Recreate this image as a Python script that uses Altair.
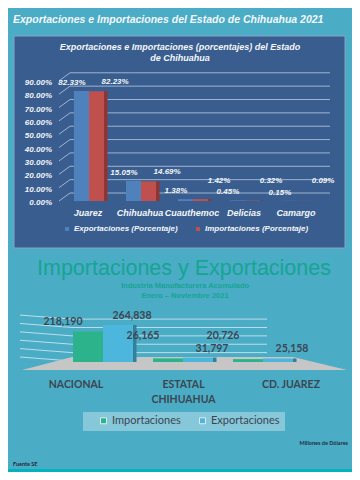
import altair as alt
import pandas as pd

# ---------------- data ----------------
top_title = "Exportaciones e Importaciones del Estado de Chihuahua 2021"
panel_title = ["Exportaciones e Importaciones (porcentajes) del Estado", "de Chihuahua"]
cities = ["Juarez", "Chihuahua", "Cuauthemoc", "Delicias", "Camargo"]
exp_pct = [82.33, 15.05, 1.38, 0.45, 0.15]
imp_pct = [82.23, 14.69, 1.42, 0.32, 0.09]
pct_series = ["Exportaciones (Porcentaje)", "Importaciones (Porcentaje)"]
pct_ticks = [0, 10, 20, 30, 40, 50, 60, 70, 80, 90]

big_title = "Importaciones y Exportaciones"
big_subtitle = ["Industria Manufacturera Acumulado", "Enero – Noviembre 2021"]
regions = ["NACIONAL", "ESTATAL CHIHUAHUA", "CD. JUAREZ"]
region_labels = ["NACIONAL", "ESTATAL\nCHIHUAHUA", "CD. JUAREZ"]
imports_musd = [218190, 26165, 20726]
exports_musd = [264838, 31797, 25158]
trade_series = ["Importaciones", "Exportaciones"]
trade_grid = [0, 60000, 120000, 180000, 240000, 300000]
units_note = "Millones de Dólares"
source_note = "Fuente SE"

# ---------------- styles ----------------
BG = "#4BACC6"
PANEL = "#385D8E"
BLUE = "#4F81BD"
RED = "#C0504D"
RED_SIDE = "#8E3431"
GREEN = "#2DB38C"
LBLUE = "#4DB6DC"
LBLUE_SIDE = "#34809A"
TEAL_TXT = "#16A493"
DARK_TXT = "#3B4650"
WHITE = "#F4F6F9"
FONT = "Liberation Sans"
CAL = "Lato"

dummy = pd.DataFrame({"k": [0]})

top_rows = []
for c, e, i in zip(cities, exp_pct, imp_pct):
    top_rows.append({"city": c, "series": pct_series[0], "value": e})
    top_rows.append({"city": c, "series": pct_series[1], "value": i})
top_df = pd.DataFrame(top_rows)
top_df["label"] = top_df["value"].map(lambda v: f"{v:.2f}%")

bot_rows = []
for r, im, ex in zip(regions, imports_musd, exports_musd):
    bot_rows.append({"region": r, "series": trade_series[0], "value": im})
    bot_rows.append({"region": r, "series": trade_series[1], "value": ex})
bot_df = pd.DataFrame(bot_rows)
bot_df["label"] = bot_df["value"].map(lambda v: f"{v:,}")

grid_top = pd.DataFrame({"t": pct_ticks})
grid_top["tl"] = grid_top["t"].map(lambda v: f"{v:.2f}%")
city_df = pd.DataFrame({"city": cities})
grid_bot = pd.DataFrame({"t": trade_grid})
reg_df = pd.DataFrame({"region": regions, "name": region_labels})

# ---------------- scales ----------------
TX = alt.Scale(domain=cities, range=[55, 315], paddingInner=0.42, paddingOuter=0.21)
TXO = alt.Scale(domain=pct_series, paddingInner=0, paddingOuter=0)
TY = alt.Scale(domain=[0, 90], range=[193, 72.8], nice=False, zero=False)

BX = alt.Scale(domain=regions, range=[55, 295], paddingInner=0.25, paddingOuter=0.125)
BXO = alt.Scale(domain=trade_series, paddingInner=0, paddingOuter=0)
BY = alt.Scale(domain=[0, 300000], range=[354, 312.1], nice=False, zero=False)
BXL = alt.Scale(type="point", domain=regions, range=[68, 283], padding=0)


def deco_text(text, x, y, **kw):
    return alt.Chart(dummy).mark_text(text=text, **kw).encode(x=alt.value(x), y=alt.value(y))


def deco_rect(x, x2, y, y2, **kw):
    return alt.Chart(dummy).mark_rect(**kw).encode(
        x=alt.value(x), x2=alt.value(x2), y=alt.value(y), y2=alt.value(y2))


# ---------------- top panel ----------------
panel = deco_rect(6, 337, 28, 240, fill=PANEL, stroke="#86A3C8", strokeWidth=1)

main_title = deco_text(top_title, 5, 12, align="left", baseline="middle", font=FONT,
                       fontSize=10.5, fontStyle="italic", fontWeight="bold", color=WHITE)
panel_ttl = deco_text(panel_title, 172, 34.5, align="center", baseline="top", font=FONT,
                      fontSize=9, fontStyle="italic", fontWeight="bold", color=WHITE,
                      lineHeight=11.5)

top_grid = alt.Chart(grid_top).mark_rule(color="#B9CAE2", strokeWidth=0.8, yOffset=-8).encode(
    y=alt.Y("t:Q", scale=TY, axis=None), x=alt.value(62), x2=alt.value(322))
top_slant = alt.Chart(grid_top).mark_rule(color="#B9CAE2", strokeWidth=0.8, y2Offset=-8).encode(
    y=alt.Y("t:Q", scale=TY, axis=None), y2="t:Q", x=alt.value(51), x2=alt.value(62))

top_ylab = alt.Chart(grid_top).mark_text(
    align="right", baseline="middle", dy=2, font=FONT, fontSize=8, fontStyle="italic",
    fontWeight="bold", color=WHITE).encode(
    y=alt.Y("t:Q", scale=TY, axis=None), x=alt.value(44), text="tl:N")

top_xlab = alt.Chart(city_df).mark_text(
    align="center", baseline="middle", dx=-1, font=FONT, fontSize=9, fontStyle="italic",
    fontWeight="bold", color=WHITE).encode(
    x=alt.X("city:N", scale=TX, axis=None), y=alt.value(205), text="city:N")

top_side = alt.Chart(top_df).transform_filter(
    alt.datum.series == pct_series[1]).mark_bar(color=RED_SIDE, width=3.5, xOffset=16.75).encode(
    x=alt.X("city:N", scale=TX, axis=None),
    y=alt.Y("value:Q", scale=TY, axis=None))

top_bars = alt.Chart(top_df).mark_bar().encode(
    x=alt.X("city:N", scale=TX, axis=None),
    xOffset=alt.XOffset("series:N", scale=TXO),
    y=alt.Y("value:Q", scale=TY, axis=None),
    color=alt.Color("series:N", scale=alt.Scale(domain=pct_series, range=[BLUE, RED]),
                    legend=alt.Legend(orient="none", legendX=55, legendY=217,
                                      direction="horizontal", title=None, symbolType="square",
                                      symbolSize=16, symbolStrokeWidth=0, labelFont=FONT,
                                      labelFontSize=8, labelFontStyle="italic",
                                      labelFontWeight="bold", labelColor=WHITE, labelOffset=3,
                                      columnPadding=16, padding=0)))

top_lab_exp = alt.Chart(top_df).transform_filter(
    alt.datum.series == pct_series[0]).mark_text(
    font=FONT, fontSize=8, fontStyle="italic", fontWeight="bold", color=WHITE,
    dx=-2, dy=-8, baseline="middle").encode(
    x=alt.X("city:N", scale=TX, axis=None),
    xOffset=alt.XOffset("series:N", scale=TXO),
    y=alt.Y("value:Q", scale=TY, axis=None),
    text="label:N")

top_lab_imp = alt.Chart(top_df).transform_filter(
    alt.datum.series == pct_series[1]).transform_calculate(
    ly="max(datum.value, 8)").mark_text(
    font=FONT, fontSize=8, fontStyle="italic", fontWeight="bold", color=WHITE,
    dx=11, dy=-9, baseline="middle").encode(
    x=alt.X("city:N", scale=TX, axis=None),
    xOffset=alt.XOffset("series:N", scale=TXO),
    y=alt.Y("ly:Q", scale=TY, axis=None),
    text="label:N")

# ---------------- bottom panel ----------------
big_ttl = deco_text(big_title, 176, 261, align="center", baseline="middle", font=FONT,
                    fontSize=21.5, color=TEAL_TXT)
big_sub = deco_text(big_subtitle, 177, 274, align="center", baseline="top", font=FONT,
                    fontSize=7.5, fontWeight="bold", color=TEAL_TXT, lineHeight=10)

bot_grid = alt.Chart(grid_bot).mark_rule(color="#D6EDF3", strokeWidth=0.8, yOffset=-1).encode(
    y=alt.Y("t:Q", scale=BY, axis=None), x=alt.value(64), x2=alt.value(259))
bot_slant = alt.Chart(grid_bot).mark_rule(color="#D6EDF3", strokeWidth=0.8, yOffset=-5,
                                          y2Offset=-1).encode(
    y=alt.Y("t:Q", scale=BY, axis=None), y2="t:Q", x=alt.value(12), x2=alt.value(64))

floor = alt.Chart(dummy).mark_point(
    shape="M -1 0.04 L 1 0.04 L 0.668 -0.04 L -0.692 -0.04 Z", size=105625, filled=True,
    color="#C6C6C6", opacity=1, strokeWidth=0).encode(x=alt.value(176.5), y=alt.value(355.5))

bot_side = alt.Chart(bot_df).transform_filter(
    alt.datum.series == trade_series[1]).mark_bar(color=LBLUE_SIDE, width=3.5,
                                                  xOffset=31.75).encode(
    x=alt.X("region:N", scale=BX, axis=None),
    y=alt.Y("value:Q", scale=BY, axis=None))

bot_bars = alt.Chart(bot_df).mark_bar().encode(
    x=alt.X("region:N", scale=BX, axis=None),
    xOffset=alt.XOffset("series:N", scale=BXO),
    y=alt.Y("value:Q", scale=BY, axis=None),
    color=alt.Color("series:N", scale=alt.Scale(domain=trade_series, range=[GREEN, LBLUE]),
                    legend=alt.Legend(orient="none", legendX=90, legendY=407,
                                      direction="horizontal", title=None, symbolType="square",
                                      symbolSize=36, symbolStrokeColor="#D8EEF4",
                                      symbolStrokeWidth=1, labelFont=CAL, labelFontSize=11,
                                      labelColor=DARK_TXT, labelOffset=3, columnPadding=16,
                                      padding=0)))

bot_lab_imp = alt.Chart(bot_df).transform_filter(
    alt.datum.series == trade_series[0]).transform_calculate(
    ly="max(datum.value, 118000)").mark_text(
    font=CAL, fontSize=10.5, fontWeight="bold", color=DARK_TXT, dx=-10, dy=-9.5,
    baseline="middle").encode(
    x=alt.X("region:N", scale=BX, axis=None),
    xOffset=alt.XOffset("series:N", scale=BXO),
    y=alt.Y("ly:Q", scale=BY, axis=None),
    text="label:N")

bot_lab_exp = alt.Chart(bot_df).transform_filter(
    alt.datum.series == trade_series[1]).mark_text(
    font=CAL, fontSize=10.5, fontWeight="bold", color=DARK_TXT, dx=-1, dy=-9,
    baseline="middle").encode(
    x=alt.X("region:N", scale=BX, axis=None),
    xOffset=alt.XOffset("series:N", scale=BXO),
    y=alt.Y("value:Q", scale=BY, axis=None),
    text="label:N")

reg_text = alt.Chart(reg_df).mark_text(
    font=CAL, fontSize=10.5, fontWeight="bold", color=DARK_TXT, baseline="top",
    lineBreak="\n", lineHeight=15).encode(
    x=alt.X("region:N", scale=BXL, axis=None), y=alt.value(371.5), text="name:N")

legend_box = deco_rect(75, 277, 404, 423, fill="#86C8DA")

units = deco_text(units_note, 340, 435, align="right", baseline="middle", font=CAL,
                  fontSize=5.5, fontWeight="bold", color="#1E2C3A")
source = deco_text(source_note, 5, 456, align="left", baseline="middle", font=CAL,
                   fontSize=5.5, fontWeight="bold", color="#1E2C3A")
band = deco_rect(0, 344, 461, 464, fill="#02B3BE")

chart = alt.layer(
    panel, top_grid, top_slant, top_ylab, top_xlab, top_side, top_bars, top_lab_exp,
    top_lab_imp, main_title, panel_ttl,
    big_ttl, big_sub, bot_grid, bot_slant, floor, bot_side, bot_bars,
    bot_lab_imp, bot_lab_exp, reg_text, legend_box, units, source, band,
).resolve_scale(
    x="independent", y="independent", color="independent", xOffset="independent"
).properties(
    width=344, height=464, background=BG, padding=0,
    autosize=alt.AutoSizeParams(type="none"),
).configure_view(stroke=None)

chart.save("out.html", embed_options={"renderer": "svg", "actions": False})
